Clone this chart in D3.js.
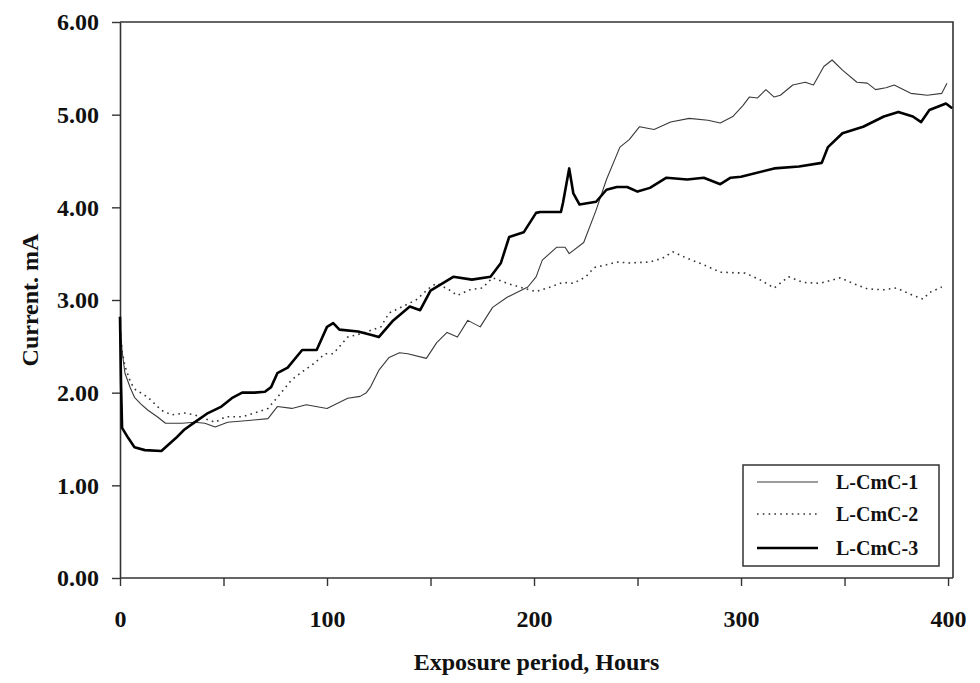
<!DOCTYPE html>
<html>
<head>
<meta charset="utf-8">
<script src="https://cdn.jsdelivr.net/npm/d3@7/dist/d3.min.js"></script>
<style>
  html, body { margin: 0; padding: 0; background: #fff; }
  svg { display: block; }
  text { font-family: "Liberation Serif", "Times New Roman", serif; font-weight: bold; fill: #111; }
</style>
</head>
<body>
<svg id="chart" width="980" height="683"></svg>
<script>
// Exposure period (hours) and current (mA) for each specimen
const hours1 = [0, 1, 2.4, 5, 7, 10, 13.5, 18, 22, 30, 36, 41, 46, 52, 62, 71.5, 76, 83, 90, 100, 110, 116, 119, 121, 125, 130, 135, 139, 148, 153, 158, 163, 168, 174, 180, 187, 197, 201, 204, 211, 215, 217, 224, 230, 235, 241.5, 246, 251, 258, 266, 275, 284, 290, 296, 301, 304, 308, 312, 316, 319, 325, 331, 335, 340, 344, 349, 356, 361, 365, 370, 374, 382, 390, 397, 399.5];
const current1 = [2.75, 2.45, 2.21, 2.05, 1.95, 1.88, 1.81, 1.74, 1.67, 1.67, 1.68, 1.67, 1.63, 1.68, 1.70, 1.72, 1.85, 1.83, 1.87, 1.83, 1.94, 1.96, 2.00, 2.06, 2.24, 2.38, 2.43, 2.42, 2.37, 2.54, 2.65, 2.60, 2.78, 2.71, 2.92, 3.03, 3.14, 3.25, 3.43, 3.57, 3.57, 3.50, 3.62, 3.97, 4.30, 4.65, 4.73, 4.87, 4.84, 4.92, 4.96, 4.94, 4.91, 4.98, 5.10, 5.19, 5.18, 5.27, 5.19, 5.21, 5.32, 5.35, 5.32, 5.52, 5.59, 5.48, 5.35, 5.34, 5.27, 5.29, 5.32, 5.23, 5.21, 5.23, 5.34];

const hours2 = [0, 1, 2.5, 5, 7, 13.5, 20, 25, 31, 36, 46, 51, 59, 65, 71.5, 76, 83, 89, 94, 99, 103, 110, 117, 126, 130, 143, 150, 153, 159, 163, 169, 175, 180, 187, 193, 201, 208, 214, 219, 225, 229, 235, 240, 246, 256, 262, 267, 274, 282, 290, 302, 309, 316, 323, 330, 338, 348, 354, 361, 369, 375, 383, 388, 391, 397];
const current2 = [2.70, 2.45, 2.28, 2.12, 2.04, 1.95, 1.81, 1.76, 1.78, 1.76, 1.68, 1.74, 1.74, 1.78, 1.83, 1.95, 2.14, 2.24, 2.32, 2.42, 2.42, 2.60, 2.64, 2.71, 2.86, 3.00, 3.14, 3.18, 3.11, 3.05, 3.11, 3.13, 3.24, 3.18, 3.14, 3.09, 3.14, 3.19, 3.18, 3.25, 3.35, 3.38, 3.41, 3.40, 3.41, 3.45, 3.52, 3.45, 3.38, 3.30, 3.29, 3.22, 3.13, 3.25, 3.19, 3.18, 3.24, 3.18, 3.12, 3.11, 3.13, 3.05, 3.01, 3.08, 3.14];

const hours3 = [0, 0.5, 1, 4, 7, 12, 20, 22, 27, 31, 36, 42.5, 49, 54, 59, 65, 70, 73, 76, 81, 88, 95, 100, 103, 106, 115, 122, 125, 132, 140, 145, 150, 161, 170, 179, 184, 188, 195, 201, 203, 213, 214, 217, 219, 222, 230, 235, 240, 245, 250, 256, 264, 274, 282, 290, 295, 300, 316, 328, 339, 342, 349, 359, 369, 376, 383, 387, 391, 399, 402];
const current3 = [2.82, 2.10, 1.62, 1.51, 1.41, 1.38, 1.37, 1.41, 1.51, 1.60, 1.68, 1.78, 1.85, 1.94, 2.00, 2.00, 2.01, 2.06, 2.21, 2.27, 2.46, 2.46, 2.71, 2.75, 2.68, 2.66, 2.62, 2.60, 2.78, 2.93, 2.89, 3.10, 3.25, 3.22, 3.25, 3.40, 3.68, 3.73, 3.94, 3.95, 3.95, 4.05, 4.42, 4.15, 4.03, 4.06, 4.19, 4.22, 4.22, 4.17, 4.21, 4.32, 4.30, 4.32, 4.25, 4.32, 4.33, 4.42, 4.44, 4.48, 4.65, 4.80, 4.87, 4.98, 5.03, 4.98, 4.92, 5.05, 5.12, 5.07];

const seriesNames = ["L-CmC-1", "L-CmC-2", "L-CmC-3"];
const yTicks = [0, 1, 2, 3, 4, 5, 6];
const xTicks = [0, 50, 100, 150, 200, 250, 300, 350, 400];
const xTickLabels = ["0", "", "100", "", "200", "", "300", "", "400"];

// Line styles per specimen: thin solid, dotted, thick solid
const styles = [
  { stroke: "#3a3a3a", width: 1.1, dash: null },
  { stroke: "#333", width: 1.6, dash: "1.6,4.2" },
  { stroke: "#000", width: 2.6, dash: null }
];

const svg = d3.select("#chart");
const plotLeft = 120, plotRight = 953, plotTop = 22, plotBottom = 578;

const x = d3.scaleLinear().domain([0, 402.4]).range([plotLeft, plotRight]);
const y = d3.scaleLinear().domain([0, 6]).range([plotBottom, plotTop]);

const series = [
  hours1.map((h, i) => ({ h, v: current1[i] })),
  hours2.map((h, i) => ({ h, v: current2[i] })),
  hours3.map((h, i) => ({ h, v: current3[i] }))
];

// Frame: top and right edges
svg.append("path")
  .attr("d", `M${plotLeft},${plotTop}H${plotRight}V${plotBottom}`)
  .attr("fill", "none").attr("stroke", "#333").attr("stroke-width", 1.6);

// Y axis
const yAxis = svg.append("g")
  .attr("transform", `translate(${plotLeft},0)`)
  .call(d3.axisLeft(y).tickValues(yTicks).tickFormat(d3.format(".2f"))
    .tickSize(8).tickSizeOuter(0).tickPadding(13));

// X axis
const xAxis = svg.append("g")
  .attr("transform", `translate(0,${plotBottom})`)
  .call(d3.axisBottom(x).tickValues(xTicks).tickFormat((d, i) => xTickLabels[i])
    .tickSize(8).tickSizeOuter(0).tickPadding(24));

[yAxis, xAxis].forEach(g => {
  g.select(".domain").attr("stroke", "#333").attr("stroke-width", 1.6);
  g.selectAll(".tick line").attr("stroke", "#333").attr("stroke-width", 1.4);
  g.selectAll(".tick text")
    .attr("font-family", "Liberation Serif, Times New Roman, serif")
    .attr("font-weight", "bold").attr("font-size", 24).attr("fill", "#111");
});
// extend x axis line to the right frame
xAxis.select(".domain").attr("d", `M${plotLeft},0H${plotRight}`);

// Curves
const line = d3.line().x(d => x(d.h)).y(d => y(d.v));
series.forEach((s, i) => {
  svg.append("path")
    .datum(s)
    .attr("d", line)
    .attr("fill", "none")
    .attr("stroke", styles[i].stroke)
    .attr("stroke-width", styles[i].width)
    .attr("stroke-dasharray", styles[i].dash)
    .attr("stroke-linejoin", "round");
});

// Axis titles
svg.append("text")
  .attr("x", (plotLeft + plotRight) / 2).attr("y", 670)
  .attr("text-anchor", "middle").attr("font-size", 24)
  .text("Exposure period, Hours");

svg.append("text")
  .attr("transform", `translate(38,${(plotTop + plotBottom) / 2}) rotate(-90)`)
  .attr("text-anchor", "middle").attr("font-size", 24)
  .text("Current. mA");

// Legend
const lg = svg.append("g");
lg.append("rect")
  .attr("x", 743).attr("y", 465).attr("width", 196).attr("height", 101)
  .attr("fill", "#fff").attr("stroke", "#333").attr("stroke-width", 1.5);
const rowY = [482, 514, 548];
seriesNames.forEach((name, i) => {
  lg.append("line")
    .attr("x1", 757).attr("x2", 818).attr("y1", rowY[i]).attr("y2", rowY[i])
    .attr("stroke", styles[i].stroke)
    .attr("stroke-width", styles[i].width)
    .attr("stroke-dasharray", styles[i].dash);
  lg.append("text")
    .attr("x", 836).attr("y", rowY[i] + 7)
    .attr("font-size", 20)
    .text(name);
});
</script>
</body>
</html>
